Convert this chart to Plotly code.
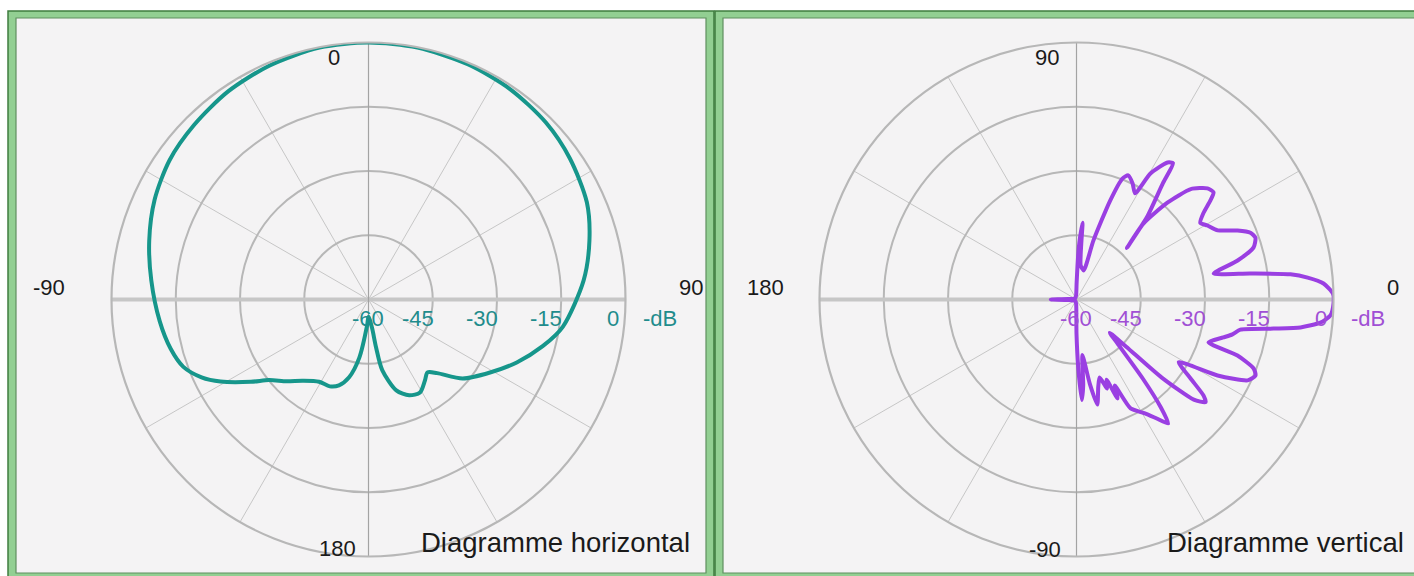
import plotly.graph_objects as go

# ---------------- data ----------------
# Horizontal pattern (azimuth, degrees clockwise from front) in dB
h_theta = [-180, -177, -171, -166, -161, -156, -149, -141, -135, -129, -125, -119,
           -115, -110, -104, -96, -85, -75, -65, -55, -45, -34, -23, -11, 0, 11, 23, 34,
           45, 55, 66, 75, 85, 98, 105, 113, 121, 130, 137, 141, 145, 151, 157, 163,
           169, 171, 173, 180]
h_db = [-56, -54, -46.2, -41.3, -38.8, -37.8, -37.6, -35.6, -33, -30.1, -26.5, -20.5,
        -17, -14, -12.4, -11, -9.1, -7.0, -4.9, -3.3, -2.4, -1.4, -0.7, -0.1, 0, -0.1,
        -0.4, -0.8, -1.5, -2.6, -4.2, -6.6, -9.6, -14.2, -17.9, -22.4, -26.9, -31.3,
        -36.5, -38.1, -37, -35.2, -35.7, -37.8, -43.2, -48.6, -53.4, -56]

# Vertical pattern (elevation, degrees counter-clockwise from horizon) in dB
v_theta = [-180, -177, -150, -120, -95,
           -90, -88.5, -87, -85.5, -84,
           -81, -78.8, -76, -73.5, -71, -69.5, -67.5, -66, -63.6, -59, -56, -53.5,
           -52, -50, -47, -45,
           -43.5, -42.5, -40.5, -38.5, -37.1, -34.7, -31.5,
           -28.3, -25.3, -23, -21.3, -19.2, -18,
           -14.5, -12.6, -10.4, -8.4, -7.1, -5.4, -3.6, -1, 1.3, 3.7, 5.4, 6.7, 8.5, 10.7,
           13.6, 16.4, 19.1, 21, 23.2, 26.1, 29.5, 31.8,
           34.1, 36.5, 38, 40.3, 44, 46.8, 48.6, 45.6,
           49.5, 53.4, 54.7, 56.4, 59.6, 61.1,
           64.2, 67.4, 69.2, 71.2, 74, 76,
           83, 85.5, 87.5, 89.5,
           95, 120, 150, 177, 180]
v_db = [-54, -58, -59.5, -59.5, -59,
        -52, -44, -36.5, -40, -47,
        -40, -35, -39, -41, -38, -40, -35, -38, -31.6, -29, -26.5, -24,
        -28, -36, -46, -49,
        -44, -33, -24, -21.5, -22.8, -27.6, -32,
        -22.6, -15.8, -14.6, -15.6, -20.2, -27.6,
        -24.6, -22.7, -21.1, -13.5, -7.3, -2.8, -0.6, 0, -0.1, -2.2, -5.8, -9.7, -19, -27.4,
        -21.3, -16.9, -15.8, -16.5, -19.1, -23.3, -24.9, -26,
        -24.3, -21.1, -19.4, -19.9, -22.9, -29, -36.4, -43.2,
        -34.6, -26.1, -21, -21.6, -25.9, -31.7,
        -29.9, -28.6, -29.8, -35.6, -45.7, -53,
        -52, -42, -48, -56,
        -59, -59.5, -59.5, -58, -54]

radial_ticks = [-60, -45, -30, -15, 0]
radial_labels = ["-60", "-45", "-30", "-15", "0"]
h_angle_labels = ["0", "90", "180", "-90"]
v_angle_labels = ["90", "0", "-90", "180"]
titles = ["Diagramme horizontal", "Diagramme vertical"]

# ---------------- geometry / style ----------------
W, H = 1414, 576
R = 257
LC = (368.5, 299.5)
RC = (1076.5, 299.5)

TEAL = "#16968b"
TEAL_TXT = "#1f8c8c"
PURPLE = "#9a3fe2"
PURPLE_TXT = "#a04fd4"
BG = "#f4f3f4"
RING = "#b7b7b7"
SPOKE = "#c6c6c6"
FONT = "Liberation Sans, Arial, sans-serif"


def fx(x):
    return x / W


def fy(y):
    return 1 - y / H


def dom(c):
    return dict(x=[fx(c[0] - R), fx(c[0] + R)], y=[fy(c[1] + R), fy(c[1] - R)])


def polar_cfg(c, rotation, direction):
    return dict(
        domain=dom(c),
        bgcolor="rgba(0,0,0,0)",
        radialaxis=dict(range=[-60, 0], tickvals=radial_ticks[1:-1], showticklabels=False,
                        ticks="", showline=False, gridcolor=RING, gridwidth=1.8),
        angularaxis=dict(rotation=rotation, direction=direction, tickmode="linear",
                         tick0=0, dtick=30, showticklabels=False, ticks="",
                         gridcolor=SPOKE, gridwidth=1.4, showline=True,
                         linecolor=RING, linewidth=2.2),
    )


fig = go.Figure()

# axis lines: heavy light line across the screen horizontal, thin darker line vertical
for sub, horiz, vert in (("polar", 90, 0), ("polar2", 0, 90)):
    fig.add_trace(go.Scatterpolar(r=[0, -60, 0], theta=[horiz, horiz, horiz + 180],
                                  mode="lines", line=dict(color="#c6c6c6", width=4),
                                  subplot=sub, hoverinfo="skip", showlegend=False))
    fig.add_trace(go.Scatterpolar(r=[0, -60, 0], theta=[vert, vert, vert + 180],
                                  mode="lines", line=dict(color="#a3a3a3", width=1.2),
                                  subplot=sub, hoverinfo="skip", showlegend=False))

fig.add_trace(go.Scatterpolar(r=h_db, theta=h_theta, mode="lines", subplot="polar",
                              line=dict(color=TEAL, width=4, shape="spline", smoothing=0.8),
                              showlegend=False))
fig.add_trace(go.Scatterpolar(r=v_db, theta=v_theta, mode="lines", subplot="polar2",
                              line=dict(color=PURPLE, width=4, shape="spline", smoothing=0.6),
                              showlegend=False))

# panel frames
shapes = []
for x0, x1 in ((8, 714), (715, 1440)):
    shapes.append(dict(type="rect", xref="paper", yref="paper", x0=fx(x0), x1=fx(x1),
                       y0=fy(590), y1=fy(11), fillcolor="#92cf92",
                       line=dict(color="#3f7d3f", width=1.5), layer="below"))
    shapes.append(dict(type="rect", xref="paper", yref="paper", x0=fx(x0 + 8), x1=fx(x1 - 8),
                       y0=fy(573), y1=fy(18), fillcolor=BG,
                       line=dict(color="#5f8f5f", width=1.2), layer="below"))

annotations = []


def txt(x, y, s, color="#1a1a1a", size=22, xanchor="center"):
    annotations.append(dict(x=fx(x), y=fy(y), xref="paper", yref="paper", text=s,
                            showarrow=False, xanchor=xanchor, yanchor="middle",
                            font=dict(family=FONT, size=size, color=color)))


# radial dB labels along the horizontal axis
for c, col in ((LC, TEAL_TXT), (RC, PURPLE_TXT)):
    for v, s in zip(radial_ticks, radial_labels):
        rr = (v + 60) / 60 * R
        if v == -60:
            txt(c[0] - 1, c[1] + 19, s, col)
        elif v == 0:
            txt(c[0] + rr - 13, c[1] + 19, s, col)
        else:
            txt(c[0] + rr - 15, c[1] + 19, s, col)
    txt(c[0] + 291, c[1] + 19, "-dB", col)

# angle labels
txt(LC[0] - 35, 58, h_angle_labels[0])
txt(LC[0] + 322, 287, h_angle_labels[1])
txt(LC[0] - 31, 548, h_angle_labels[2])
txt(LC[0] - 320, 287, h_angle_labels[3])
txt(RC[0] - 30, 58, v_angle_labels[0])
txt(RC[0] + 316, 287, v_angle_labels[1])
txt(RC[0] - 32, 549, v_angle_labels[2])
txt(RC[0] - 311, 287, v_angle_labels[3])

# panel titles
txt(692, 542, titles[0], size=27.5, xanchor="right")
txt(1406, 542, titles[1], size=27.5, xanchor="right")

fig.update_layout(
    width=W, height=H, margin=dict(l=0, r=0, t=0, b=0),
    paper_bgcolor="white", plot_bgcolor="white",
    polar=polar_cfg(LC, 90, "clockwise"),
    polar2=polar_cfg(RC, 0, "counterclockwise"),
    shapes=shapes, annotations=annotations, showlegend=False,
)

fig.write_html("out.html")
